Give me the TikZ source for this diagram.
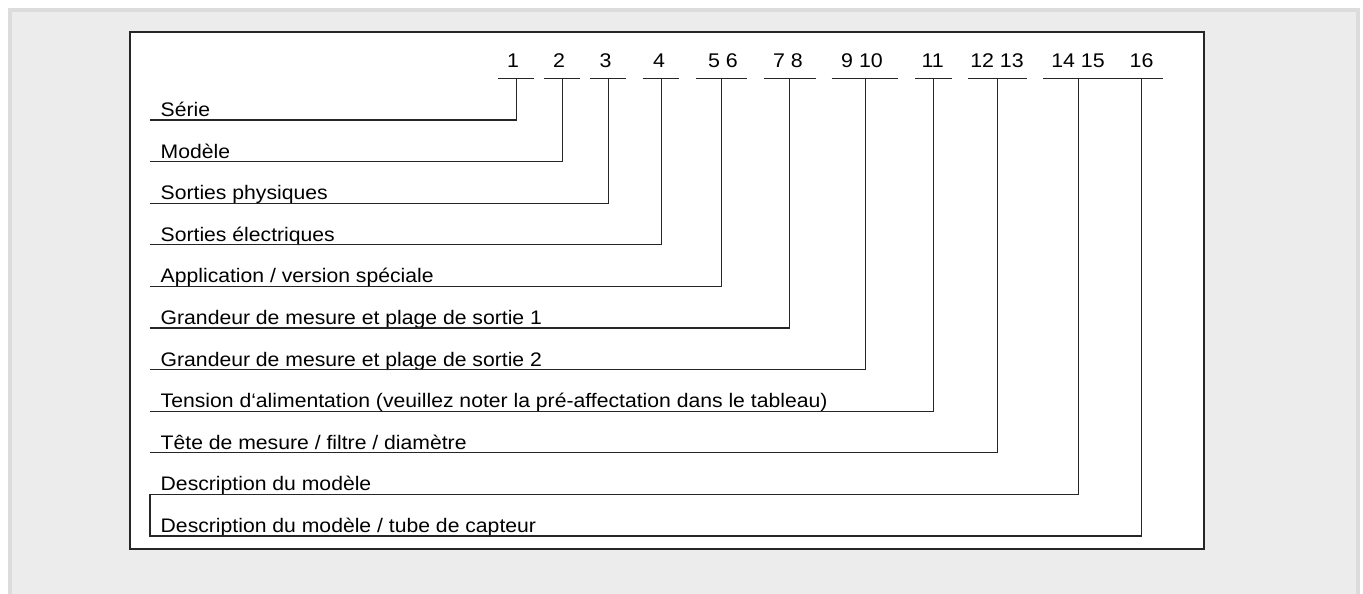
\documentclass[tikz,border=0pt]{standalone}
\usepackage{fontspec}
\setmainfont{Liberation Sans}
\newfontfamily\wideface[FakeStretch=1.08]{Liberation Sans}
\usepackage{xcolor}

\definecolor{panelgray}{HTML}{EBECEB}
\definecolor{panelrim}{HTML}{DCDCDC}
\definecolor{inkgray}{HTML}{262626}

\tikzset{
  rowlabel/.style={anchor=base west, inner sep=0pt, font=\wideface\fontsize{19.6}{22}\selectfont},
  codedigit/.style={anchor=base, inner sep=0pt, font=\wideface\fontsize{19.8}{22}\selectfont},
  lead/.style={line width=1.2pt, draw=inkgray},
}

\begin{document}
\begin{tikzpicture}[x=1pt,y=-1pt]
\useasboundingbox (0,0) rectangle (1363,594);
\clip (0,0) rectangle (1363,594);
% panel and frame
\draw[panelrim, fill=panelgray, line width=3.5pt] (10,10) rectangle (1358,620);
\draw[fill=white, draw=inkgray, line width=1.3pt] (130,32) rectangle (1204,549);

% code digits
\node[codedigit] (n1) at (513,67.7) {1};
\node[codedigit] (n2) at (559,67.7) {2};
\node[codedigit] (n3) at (605.5,67.7) {3};
\node[codedigit] (n4) at (659,67.7) {4};
\node[codedigit] (n56) at (723,67.7) {5 6};
\node[codedigit] (n78) at (788,67.7) {7 8};
\node[codedigit] (n910) at (862,67.7) {9 10};
\node[codedigit] (n11) at (932.7,67.7) {11};
\node[codedigit] (n1213) at (997,67.7) {12 13};
\node[codedigit] (n1415) at (1078,67.7) {14 15};
\node[codedigit] (n16) at (1141.5,67.7) {16};

% bars under the digits
\draw[lead] (498,78.3)--(534.3,78.3);
\draw[lead] (544,78.3)--(580,78.3);
\draw[lead] (590,78.3)--(626,78.3);
\draw[lead] (642.7,78.3)--(679.3,78.3);
\draw[lead] (696,78.3)--(747.3,78.3);
\draw[lead] (764,78.3)--(815.7,78.3);
\draw[lead] (831.7,78.3)--(898.3,78.3);
\draw[lead] (915,78.3)--(951.7,78.3);
\draw[lead] (968.3,78.3)--(1027.3,78.3);
\draw[lead] (1043.3,78.3)--(1163.3,78.3);

% tops of the leads
\coordinate (t1) at (516.7,78.3);
\coordinate (t2) at (562.3,78.3);
\coordinate (t3) at (608.3,78.3);
\coordinate (t4) at (661.7,78.3);
\coordinate (t56) at (721.7,78.3);
\coordinate (t78) at (789.7,78.3);
\coordinate (t910) at (865.7,78.3);
\coordinate (t11) at (933.3,78.3);
\coordinate (t1213) at (997.3,78.3);
\coordinate (t1415) at (1078.3,78.3);
\coordinate (t16) at (1141.7,78.3);

% row starts
\coordinate (s1) at (150,120);
\coordinate (s2) at (150,161.6);
\coordinate (s3) at (150,203.2);
\coordinate (s4) at (150,244.8);
\coordinate (s5) at (150,286.4);
\coordinate (s6) at (150,328);
\coordinate (s7) at (150,369.6);
\coordinate (s8) at (150,411.2);
\coordinate (s9) at (150,452.8);
\coordinate (s10) at (150,494.4);
\coordinate (s11) at (150,536);

% labels
\node[rowlabel] (serie) at (160.5,116.5) {Série};
\node[rowlabel] (modele) at (160.5,158.1) {Modèle};
\node[rowlabel] (physique) at (160.5,199.7) {Sorties physiques};
\node[rowlabel] (electrique) at (160.5,241.3) {Sorties électriques};
\node[rowlabel] (appli) at (160.5,282.9) {Application / version spéciale};
\node[rowlabel] (grandeur1) at (160.5,324.5) {Grandeur de mesure et plage de sortie 1};
\node[rowlabel] (grandeur2) at (160.5,366.1) {Grandeur de mesure et plage de sortie 2};
\node[rowlabel] (tension) at (160.5,407.7) {Tension d‘alimentation (veuillez noter la pré-affectation dans le tableau)};
\node[rowlabel] (tete) at (160.5,449.3) {Tête de mesure / filtre / diamètre};
\node[rowlabel] (descr) at (160.5,490.9) {Description du modèle};
\node[rowlabel] (tube) at (160.5,532.5) {Description du modèle / tube de capteur};

% leads
\draw[lead] (s1) -| (t1);
\draw[lead] (s2) -| (t2);
\draw[lead] (s3) -| (t3);
\draw[lead] (s4) -| (t4);
\draw[lead] (s5) -| (t56);
\draw[lead] (s6) -| (t78);
\draw[lead] (s7) -| (t910);
\draw[lead] (s8) -| (t11);
\draw[lead] (s9) -| (t1213);
\draw[lead] (s10) -| (t1415);
\draw[lead] (s10) -- (s11) -| (t16);
\end{tikzpicture}
\end{document}
